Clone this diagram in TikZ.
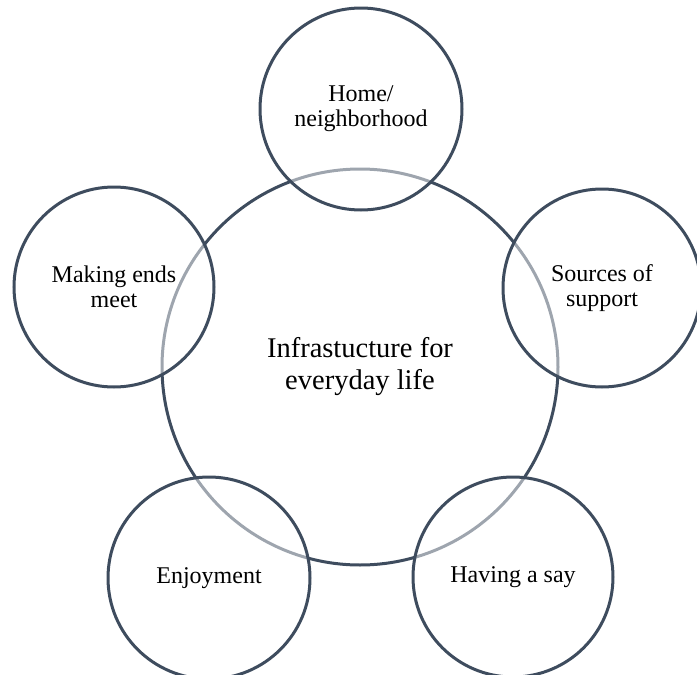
\documentclass[tikz,border=0pt]{standalone}
\usepackage{fontspec}
\setmainfont{Liberation Serif}
\usepackage{xcolor}
\usetikzlibrary{positioning}
\definecolor{ringnavy}{RGB}{62,76,94}
\tikzset{core node/.style={circle,draw=ringnavy,line width=3pt,minimum size=396pt,inner sep=0pt,align=center,font=\rmfamily\fontsize{28.5}{32}\selectfont}}
\tikzset{topic node/.style={circle,draw=ringnavy,line width=3pt,fill=white,fill opacity=0.5,text opacity=1,minimum size=200pt,inner sep=0pt,align=center,font=\rmfamily\fontsize{24}{25}\selectfont}}

\begin{document}
\begin{tikzpicture}[x=1pt,y=-1pt]
	\useasboundingbox (0,0) rectangle (697,675);
	\node[core node] (core) at (360,367) {Infrastucture for\\everyday life};

	\node[topic node,minimum size=202pt] (home) at (361,109) {Home/\\neighborhood};
	\node[topic node] (ends) at (114,287) {Making ends\\meet};
	\node[topic node,minimum size=198pt] (support) at (602,288) {Sources of\\support};
	\node[topic node,minimum size=202pt] (enjoy) at (209,578) {Enjoyment};
	\node[topic node] (say) at (513,577) {Having a say};
\end{tikzpicture}
\end{document}
